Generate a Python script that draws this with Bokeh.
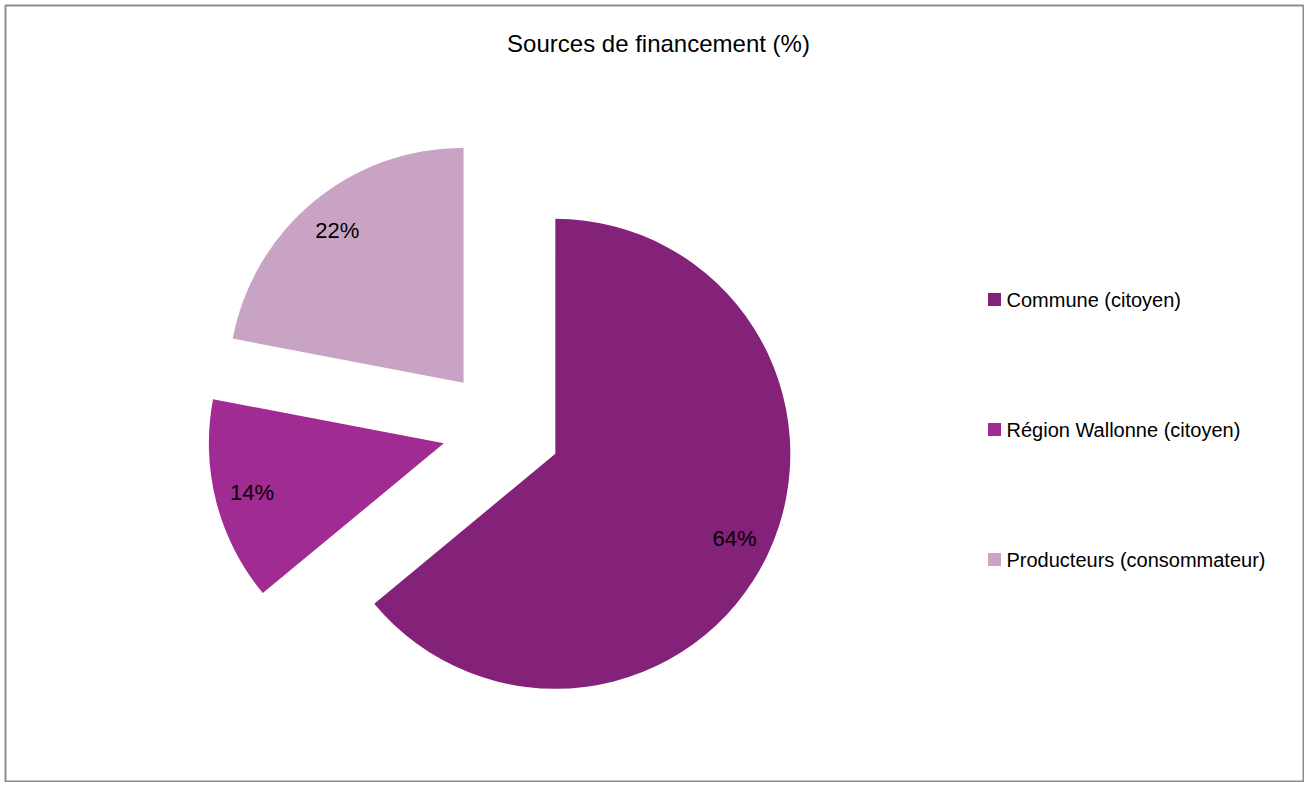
import numpy as np
from bokeh.plotting import figure
from bokeh.models import Range1d, ColumnDataSource
from bokeh.core.properties import value
from bokeh.embed import file_html
from bokeh.resources import INLINE

title = "Sources de financement (%)"
categories = ["Commune (citoyen)", "Région Wallonne (citoyen)", "Producteurs (consommateur)"]
shares = [64, 14, 22]
colors = ["#84227A", "#A02B93", "#C8A3C4"]

W, H = 1304, 782
BL, BT, BR, BB = 5, 5, 1, 0
FW, FH = W - BL - BR, H - BT - BB
p = figure(width=W, height=H, output_backend="svg", toolbar_location=None,
           x_range=Range1d(0, FW), y_range=Range1d(0, FH),
           min_border_left=BL, min_border_top=BT, min_border_right=BR, min_border_bottom=BB)
p.axis.visible = False
p.grid.visible = False
p.outline_line_color = "#8C8C8C"
p.outline_line_width = 2
p.background_fill_color = "white"
p.border_fill_color = "white"

# pie geometry (data coords: x = px - 5, y = 782 - py)
cx, cy = 496.0, 354.0
R = 235.0
explode = 59.5
label_r = 198.0

vals = np.array(shares, dtype=float)
frac = vals / vals.sum()
cum = np.concatenate([[0], np.cumsum(frac)])
start = np.pi / 2 - 2 * np.pi * cum[:-1]
end = np.pi / 2 - 2 * np.pi * cum[1:]
mid = (start + end) / 2
xs = cx + explode * np.cos(mid)
ys = cy + explode * np.sin(mid)

src = ColumnDataSource(dict(x=xs, y=ys, s=start, e=end, c=colors,
                            lx=xs + label_r * np.cos(mid), ly=ys + label_r * np.sin(mid),
                            lab=[f"{v:.0f}%" for v in vals]))
p.wedge(x="x", y="y", radius=R, start_angle="s", end_angle="e", direction="clock",
        fill_color="c", line_color=None, source=src)
p.text(x="lx", y="ly", text="lab", source=src, text_align="center", text_baseline="middle",
       text_font=value("Liberation Sans"), text_font_size="22px", text_color="#000000")

# title
p.text(x=[653], y=[782 - 43], text=[title], text_align="center", text_baseline="middle",
       text_font=value("Liberation Sans"), text_font_size="24px", text_color="#000000")

# legend
ly = [782 - 299 - 130 * i for i in range(len(categories))]
p.scatter(x=[989] * len(categories), y=ly, marker="square", size=13,
          fill_color=colors, line_color=None)
p.text(x=[1001] * len(categories), y=ly, text=categories, text_align="left",
       text_baseline="middle", text_font=value("Liberation Sans"), text_font_size="20px",
       text_color="#000000")

open("out.html", "w").write(file_html(p, INLINE))
